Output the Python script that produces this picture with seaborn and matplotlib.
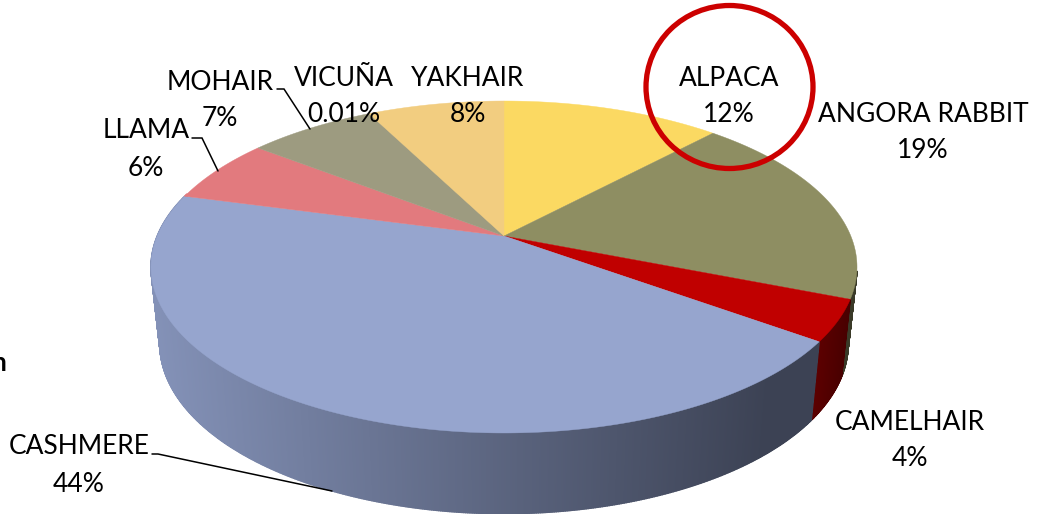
import numpy as np
import matplotlib
matplotlib.use("Agg")
import matplotlib.pyplot as plt
from matplotlib.patches import Ellipse, Polygon
import seaborn as sns

# ---- data (clockwise from 12 o'clock) ----
fibres = ["ALPACA", "ANGORA RABBIT", "CAMELHAIR", "CASHMERE", "LLAMA", "MOHAIR", "VICUÑA", "YAKHAIR"]
shares = [12.0, 19.0, 4.0, 44.2, 6.3, 7.0, 0.01, 7.5]
share_labels = ["12%", "19%", "4%", "44%", "6%", "7%", "0.01%", "8%"]
top_colors = ["#FBD962", "#8E8E62", "#C00000", "#96A5CE", "#E27A7E", "#9D9B80", "#9D9B80", "#F2CD80"]
wall_near = ["#FBD962", "#4A4A30", "#700000", "#8492B8", "#E27A7E", "#9D9B80", "#9D9B80", "#F2CD80"]
wall_far = ["#FBD962", "#3A3A28", "#480000", "#3C4254", "#E27A7E", "#9D9B80", "#9D9B80", "#F2CD80"]

# ---- layout ----
W, H = 1038, 514
CX, CY = 504, 236
A, B, K = 346.8, 160.2, 0.1867
WALL_SX, WALL_SY, WALL_D = 0.975, 1.024, 76.0

sns.set_theme(style="white")
plt.rcParams["font.family"] = ["Lato", "DejaVu Sans"]
palette = sns.color_palette(top_colors)

fig = plt.figure(figsize=(W / 100, H / 100), dpi=100)
ax = fig.add_axes([0, 0, 1, 1])
ax.set_xlim(0, W)
ax.set_ylim(H, 0)
ax.axis("off")


def top_ring(theta):
    u, v = np.sin(theta), np.cos(theta)
    d = 1 + K * v
    return A * u / d, B * v / d


def to_px(X, Y):
    return CX + X, CY - Y


edges = np.deg2rad(np.cumsum([0.0] + shares) / sum(shares) * 360.0)

# side wall, split into thin strips so that each slice carries a gradient
for i in range(len(shares)):
    lo, hi = edges[i], edges[i + 1]
    n = max(2, int(np.degrees(hi - lo) * 4))
    t = np.linspace(lo, hi, n + 1)
    X, Y = top_ring(t)
    xt, yt = to_px(X, Y)
    xb, yb = to_px(X * WALL_SX, Y * WALL_SY - WALL_D)
    near = np.array(matplotlib.colors.to_rgb(wall_near[i]))
    far = np.array(matplotlib.colors.to_rgb(wall_far[i]))
    if i == 3:
        x0, x1 = 150.0, 770.0
    else:
        x0, x1 = xt.min() - (xt.max() - xt.min()), xt.max()
    order = range(n) if i != 3 else range(n - 1, -1, -1)
    for j in order:
        # only strips that face the viewer
        if not np.deg2rad(102) < (t[j] + t[j + 1]) / 2 < np.deg2rad(286):
            continue
        f = np.clip(((xt[j] + xt[j + 1]) / 2 - x0) / (x1 - x0), 0, 1)
        c = tuple(near + (far - near) * f)
        ax.add_patch(Polygon([(xt[j], yt[j]), (xt[j + 1], yt[j + 1]), (xb[j + 1], yb[j + 1]), (xb[j], yb[j])],
                             closed=True, facecolor=c, edgecolor=c, lw=1.0, zorder=1))

# top face
for i in range(len(shares)):
    t = np.linspace(edges[i], edges[i + 1], max(2, int(np.degrees(edges[i + 1] - edges[i]) * 2)) + 1)
    X, Y = top_ring(t)
    xs, ys = to_px(X, Y)
    ax.fill(np.r_[CX, xs], np.r_[CY, ys], color=palette[i], lw=0.3, zorder=2)

# leader lines
for lx, ly in [((192, 202, 218), (138, 138, 171)),
               ((277, 284, 310), (89, 89, 129)),
               ((152, 158, 332), (454, 454, 491))]:
    ax.plot(lx, ly, color="black", lw=1.1, zorder=3, solid_joinstyle="miter")

# labels
FS = 19.0
label_pos = [(729, 79, 729, 115), (923, 114, 923, 151), (910, 422, 910, 459), (79, 447, 79, 484),
             (146, 131, 146, 168), (220, 82, 220, 119), (344, 78, 344, 115), (468, 78, 468, 115)]
for name, pct, (nx, ny, px, py) in zip(fibres, share_labels, label_pos):
    ax.text(nx, ny, name, fontsize=FS, color="black", ha="center", va="center", zorder=4)
    ax.text(px, py, pct, fontsize=FS, color="black", ha="center", va="center", zorder=4)

# highlight ring around ALPACA
ax.add_patch(Ellipse((729.5, 87), 167, 163, fill=False, ec="#CC0000", lw=3.8, zorder=5))

# clipped fragment of surrounding slide text
ax.text(6, 363, "n", fontsize=19, fontweight="bold", color="black", ha="right", va="center", zorder=4)

fig.savefig("out.png", dpi=100)
